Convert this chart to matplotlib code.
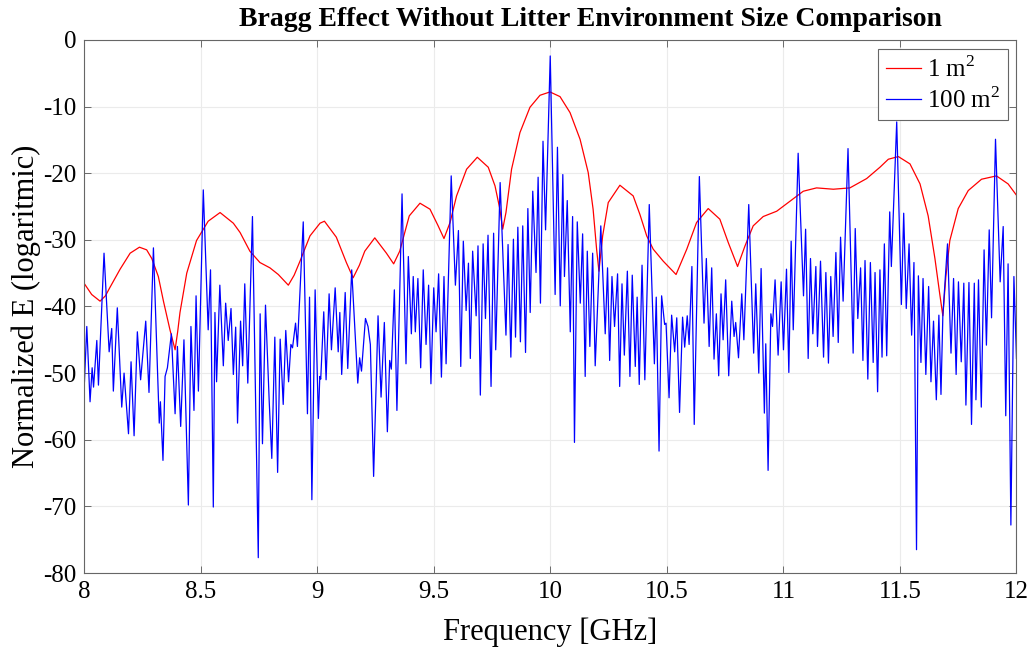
import matplotlib
matplotlib.use("Agg")
import matplotlib.pyplot as plt

# frequency sweep (GHz) and normalized field (dB) for the small environment
freq_1m2 = [8.000, 8.031, 8.067, 8.090, 8.110, 8.153, 8.196, 8.236, 8.267, 8.289,
            8.317, 8.339, 8.367, 8.389, 8.400, 8.410, 8.439, 8.481, 8.531, 8.582,
            8.639, 8.668, 8.710, 8.753, 8.796, 8.832, 8.875, 8.900, 8.925, 8.968,
            9.011, 9.030, 9.081, 9.124, 9.153, 9.180, 9.203, 9.246, 9.296, 9.327,
            9.353, 9.394, 9.440, 9.483, 9.518, 9.543, 9.569, 9.597, 9.640, 9.686,
            9.733, 9.762, 9.783, 9.795, 9.809, 9.833, 9.869, 9.912, 9.955, 9.998,
            10.041, 10.084, 10.127, 10.162, 10.183, 10.198, 10.208, 10.224, 10.248, 10.298,
            10.355, 10.384, 10.413, 10.441, 10.484, 10.539, 10.585, 10.627, 10.677, 10.727,
            10.763, 10.803, 10.835, 10.870, 10.913, 10.971, 11.028, 11.085, 11.142, 11.214,
            11.285, 11.357, 11.414, 11.450, 11.493, 11.543, 11.586, 11.621, 11.650, 11.671,
            11.684, 11.697, 11.714, 11.750, 11.793, 11.850, 11.914, 11.964, 12.000]
e_1m2 = [-36.6, -38.2, -39.2, -38.4, -37.1, -34.4, -32.0, -31.1, -31.5, -32.8,
         -35.5, -39.2, -43.5, -46.5, -43.8, -40.9, -35.0, -30.1, -27.2, -25.9,
         -27.5, -28.9, -31.7, -33.4, -34.2, -35.2, -36.8, -35.3, -33.2, -29.4,
         -27.5, -27.2, -29.6, -33.4, -35.7, -33.8, -31.7, -29.7, -32.0, -33.6,
         -31.7, -26.4, -24.5, -25.4, -27.9, -29.8, -27.4, -23.4, -19.4, -17.6,
         -19.1, -21.9, -25.4, -28.4, -25.9, -19.4, -13.9, -10.1, -8.3, -7.8,
         -8.5, -10.9, -14.9, -19.9, -25.4, -31.4, -34.7, -29.4, -24.4, -21.8,
         -23.4, -26.2, -29.4, -31.4, -33.2, -35.2, -31.4, -27.4, -25.3, -26.9,
         -30.4, -34.0, -30.9, -27.9, -26.5, -25.7, -24.2, -22.7, -22.2, -22.4,
         -22.2, -20.8, -19.1, -17.9, -17.5, -18.6, -21.6, -26.4, -32.8, -38.2,
         -41.4, -35.5, -30.1, -25.3, -22.6, -20.9, -20.4, -21.6, -23.3]

# same sweep for the large environment
freq_100m2 = [8.000, 8.010, 8.024, 8.033, 8.039, 8.053, 8.060, 8.084, 8.106, 8.117,
              8.124, 8.141, 8.160, 8.170, 8.189, 8.200, 8.213, 8.227, 8.241, 8.263,
              8.277, 8.296, 8.321, 8.326, 8.337, 8.346, 8.356, 8.373, 8.389, 8.399,
              8.413, 8.427, 8.446, 8.457, 8.470, 8.479, 8.489, 8.510, 8.531, 8.541,
              8.553, 8.560, 8.567, 8.581, 8.596, 8.606, 8.617, 8.629, 8.639, 8.649,
              8.657, 8.670, 8.679, 8.688, 8.701, 8.721, 8.746, 8.754, 8.764, 8.777,
              8.793, 8.804, 8.817, 8.829, 8.840, 8.853, 8.864, 8.876, 8.886, 8.893,
              8.906, 8.914, 8.939, 8.957, 8.966, 8.976, 8.990, 9.004, 9.010, 9.014,
              9.027, 9.037, 9.050, 9.060, 9.076, 9.089, 9.096, 9.104, 9.119, 9.130,
              9.147, 9.173, 9.181, 9.189, 9.206, 9.217, 9.227, 9.241, 9.260, 9.273,
              9.287, 9.300, 9.310, 9.317, 9.330, 9.341, 9.363, 9.380, 9.390, 9.403,
              9.411, 9.420, 9.431, 9.443, 9.454, 9.466, 9.477, 9.487, 9.499, 9.509,
              9.520, 9.532, 9.543, 9.552, 9.574, 9.592, 9.605, 9.615, 9.626, 9.638,
              9.648, 9.656, 9.666, 9.681, 9.689, 9.699, 9.711, 9.721, 9.732, 9.745,
              9.756, 9.765, 9.784, 9.809, 9.818, 9.830, 9.841, 9.850, 9.860, 9.871,
              9.881, 9.893, 9.903, 9.913, 9.924, 9.938, 9.947, 9.957, 9.968, 9.979,
              9.999, 10.020, 10.030, 10.042, 10.053, 10.060, 10.072, 10.085, 10.095, 10.103,
              10.115, 10.128, 10.138, 10.149, 10.158, 10.169, 10.181, 10.192, 10.216, 10.235,
              10.245, 10.254, 10.264, 10.275, 10.288, 10.297, 10.307, 10.317, 10.330, 10.341,
              10.351, 10.364, 10.372, 10.381, 10.393, 10.405, 10.424, 10.446, 10.454, 10.466,
              10.477, 10.490, 10.496, 10.509, 10.520, 10.533, 10.542, 10.554, 10.567, 10.576,
              10.587, 10.595, 10.607, 10.617, 10.639, 10.659, 10.669, 10.681, 10.692, 10.702,
              10.712, 10.722, 10.732, 10.741, 10.752, 10.765, 10.778, 10.788, 10.795, 10.807,
              10.821, 10.830, 10.851, 10.872, 10.881, 10.894, 10.904, 10.918, 10.924, 10.934,
              10.946, 10.953, 10.964, 10.977, 10.990, 11.000, 11.013, 11.023, 11.033, 11.042,
              11.063, 11.086, 11.095, 11.106, 11.116, 11.126, 11.139, 11.146, 11.159, 11.172,
              11.182, 11.193, 11.203, 11.213, 11.225, 11.235, 11.245, 11.256, 11.277, 11.299,
              11.308, 11.319, 11.331, 11.341, 11.350, 11.362, 11.373, 11.385, 11.393, 11.404,
              11.414, 11.423, 11.433, 11.443, 11.456, 11.463, 11.486, 11.506, 11.516, 11.527,
              11.539, 11.550, 11.560, 11.571, 11.579, 11.590, 11.599, 11.611, 11.623, 11.633,
              11.644, 11.656, 11.667, 11.676, 11.684, 11.704, 11.719, 11.730, 11.741, 11.751,
              11.763, 11.774, 11.783, 11.796, 11.807, 11.819, 11.826, 11.837, 11.849, 11.861,
              11.871, 11.883, 11.893, 11.910, 11.930, 11.943, 11.954, 11.964, 11.976, 11.989,
              12.000]
e_100m2 = [-51.3, -43.0, -54.3, -49.2, -52.1, -45.1, -51.8, -32.0, -46.8, -43.3,
           -52.7, -40.2, -55.1, -50.0, -59.1, -48.3, -59.4, -43.8, -51.0, -42.2,
           -52.9, -31.2, -57.5, -54.3, -63.1, -50.5, -49.2, -44.1, -56.1, -46.0,
           -58.0, -45.0, -69.8, -43.0, -55.6, -38.4, -52.7, -22.5, -43.5, -34.5,
           -70.1, -40.9, -51.3, -36.8, -48.9, -39.5, -45.1, -40.3, -50.2, -43.1,
           -57.5, -42.2, -48.9, -36.6, -51.5, -26.5, -77.7, -41.1, -60.6, -39.8,
           -54.3, -62.8, -44.6, -64.9, -44.9, -54.7, -43.6, -51.3, -45.7, -46.2,
           -42.5, -46.0, -27.3, -56.1, -38.6, -69.0, -37.5, -56.8, -50.5, -50.9,
           -40.8, -51.0, -38.1, -46.5, -37.2, -46.8, -40.9, -50.2, -37.9, -49.3,
           -34.5, -51.5, -47.7, -49.7, -41.8, -43.0, -45.7, -65.5, -41.4, -53.6,
           -42.4, -58.8, -48.1, -49.4, -37.5, -55.6, -23.1, -48.6, -32.5, -44.1,
           -35.5, -43.8, -35.8, -49.2, -34.5, -45.7, -36.8, -51.6, -37.2, -43.8,
           -35.1, -50.6, -35.5, -48.6, -20.4, -36.8, -28.6, -49.0, -30.2, -40.6,
           -33.5, -47.8, -31.7, -41.4, -30.9, -53.3, -30.6, -41.8, -29.3, -52.0,
           -29.0, -46.5, -21.4, -44.3, -30.7, -47.6, -29.9, -44.6, -28.1, -45.3,
           -27.9, -46.9, -25.3, -40.9, -22.7, -34.9, -20.6, -39.5, -15.2, -28.5,
           -2.4, -38.2, -16.1, -39.9, -20.2, -35.5, -24.1, -43.8, -26.5, -60.4,
           -27.3, -39.5, -29.1, -50.5, -31.7, -46.0, -32.0, -48.9, -27.9, -44.1,
           -34.2, -48.1, -35.5, -43.0, -35.1, -52.0, -36.6, -47.3, -34.7, -50.5,
           -35.3, -49.0, -38.6, -51.7, -33.8, -51.0, -24.7, -48.6, -38.6, -61.7,
           -38.4, -42.7, -42.5, -53.7, -41.3, -46.8, -41.7, -55.9, -41.6, -46.1,
           -41.4, -45.7, -34.0, -57.7, -20.5, -42.5, -32.8, -46.0, -34.2, -47.9,
           -41.1, -50.4, -38.1, -45.0, -36.0, -50.4, -39.2, -44.5, -42.4, -47.7,
           -38.1, -45.0, -24.7, -47.0, -36.6, -50.0, -34.3, -56.0, -45.6, -64.6,
           -41.1, -43.0, -36.0, -47.3, -36.3, -46.5, -34.4, -49.9, -30.2, -43.5,
           -17.0, -38.4, -28.4, -47.8, -32.8, -44.1, -34.0, -46.0, -33.2, -47.6,
           -34.9, -48.5, -35.5, -44.5, -31.9, -45.4, -29.6, -39.2, -16.3, -47.0,
           -28.3, -41.8, -34.2, -48.1, -33.1, -50.9, -33.4, -48.4, -34.9, -52.8,
           -34.5, -47.6, -30.6, -47.4, -25.8, -34.0, -12.3, -39.7, -26.0, -40.3,
           -30.6, -44.3, -33.4, -76.5, -35.4, -48.4, -35.8, -50.2, -37.0, -51.3,
           -42.2, -54.0, -41.3, -53.2, -41.4, -30.6, -47.0, -35.8, -50.2, -36.3,
           -48.3, -36.5, -54.8, -36.4, -57.7, -36.5, -54.0, -36.0, -55.1, -31.5,
           -45.8, -28.5, -41.7, -14.9, -36.3, -28.0, -56.4, -33.6, -72.8, -35.5,
           -47.8]

x_ticks = [8, 8.5, 9, 9.5, 10, 10.5, 11, 11.5, 12]
x_tick_labels = ["8", "8.5", "9", "9.5", "10", "10.5", "11", "11.5", "12"]
y_ticks = [-80, -70, -60, -50, -40, -30, -20, -10, 0]

plt.rcParams["font.family"] = ["Liberation Serif", "DejaVu Serif"]
plt.rcParams["axes.unicode_minus"] = False
plt.rcParams["mathtext.fontset"] = "custom"
plt.rcParams["mathtext.rm"] = "Liberation Serif"

fig = plt.figure(figsize=(10.35, 6.49), dpi=100)
ax = fig.add_axes([0.0816, 0.1171, 0.9005, 0.8213])

ax.plot(freq_1m2, e_1m2, color="#ff0000", lw=0.9, label="1 m$^2$")
ax.plot(freq_100m2, e_100m2, color="#0000ff", lw=0.9, label="100 m$^2$")

ax.set_xlim(8, 12)
ax.set_ylim(-80, 0)
ax.set_xticks(x_ticks)
ax.set_xticklabels(x_tick_labels)
ax.set_yticks(y_ticks)
ax.grid(True, color="#ebebeb", lw=0.8)
ax.set_axisbelow(True)
ax.tick_params(direction="in", length=5, width=0.6, color="#555555",
               top=True, right=True, labelsize=18, pad=6)
for sp in ax.spines.values():
    sp.set_color("#666666")
    sp.set_linewidth(0.8)

ax.set_xlabel("Frequency [GHz]", fontsize=22, labelpad=10)
ax.set_ylabel("Normalized E (logaritmic)", fontsize=22, labelpad=1)
fig.text(0.570, 0.970, "Bragg Effect Without Litter Environment Size Comparison",
         ha="center", va="center", fontsize=20, fontweight="bold")

leg = ax.legend(loc="upper right", fontsize=18, fancybox=False, framealpha=1,
                edgecolor="#666666", handlelength=1.4, handletextpad=0.25,
                borderpad=0.3, labelspacing=0.2, borderaxespad=0.35)
leg.get_frame().set_linewidth(0.8)

fig.savefig("out.png", dpi=100)
